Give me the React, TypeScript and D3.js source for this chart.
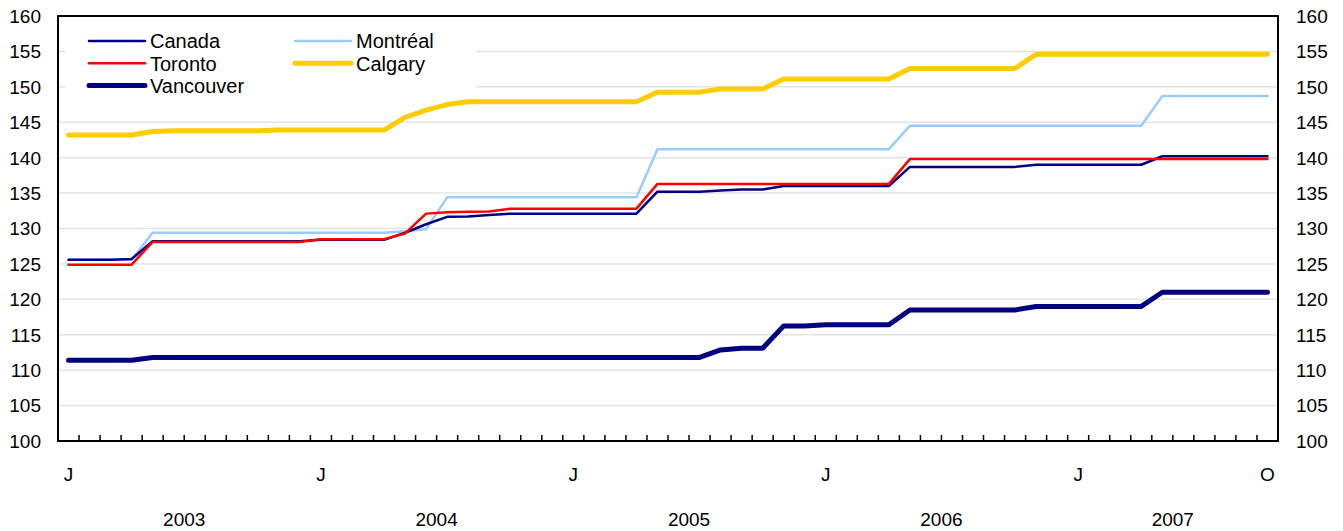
import React, { useRef, useEffect } from 'react';
import * as d3 from 'd3';

// monthly index values, Jan 2003 .. Oct 2007
const months = [
  '2003-01', '2003-02', '2003-03', '2003-04', '2003-05', '2003-06', '2003-07', '2003-08', '2003-09', '2003-10', '2003-11', '2003-12',
  '2004-01', '2004-02', '2004-03', '2004-04', '2004-05', '2004-06', '2004-07', '2004-08', '2004-09', '2004-10', '2004-11', '2004-12',
  '2005-01', '2005-02', '2005-03', '2005-04', '2005-05', '2005-06', '2005-07', '2005-08', '2005-09', '2005-10', '2005-11', '2005-12',
  '2006-01', '2006-02', '2006-03', '2006-04', '2006-05', '2006-06', '2006-07', '2006-08', '2006-09', '2006-10', '2006-11', '2006-12',
  '2007-01', '2007-02', '2007-03', '2007-04', '2007-05', '2007-06', '2007-07', '2007-08', '2007-09', '2007-10',
];

const canada = [
  125.6, 125.6, 125.6, 125.7, 128.2, 128.2, 128.2, 128.2, 128.2, 128.2, 128.2, 128.2,
  128.4, 128.4, 128.4, 128.4, 129.4, 130.6, 131.65, 131.7, 131.9, 132.1, 132.1, 132.1,
  132.1, 132.1, 132.1, 132.1, 135.2, 135.2, 135.2, 135.35, 135.5, 135.5, 136.0, 136.0,
  136.0, 136.0, 136.0, 136.0, 138.7, 138.7, 138.7, 138.7, 138.7, 138.7, 139.0, 139.0,
  139.0, 139.0, 139.0, 139.0, 140.2, 140.2, 140.2, 140.2, 140.2, 140.2,
];

const toronto = [
  124.9, 124.9, 124.9, 124.9, 128.1, 128.1, 128.1, 128.1, 128.1, 128.1, 128.1, 128.1,
  128.5, 128.5, 128.5, 128.5, 129.3, 132.1, 132.3, 132.35, 132.4, 132.8, 132.8, 132.8,
  132.8, 132.8, 132.8, 132.8, 136.3, 136.3, 136.3, 136.3, 136.3, 136.3, 136.3, 136.3,
  136.3, 136.3, 136.3, 136.3, 139.8, 139.8, 139.8, 139.8, 139.8, 139.8, 139.8, 139.8,
  139.8, 139.8, 139.8, 139.8, 139.8, 139.8, 139.8, 139.8, 139.8, 139.8,
];

const montreal = [
  125.6, 125.6, 125.6, 125.6, 129.4, 129.4, 129.4, 129.4, 129.4, 129.4, 129.4, 129.4,
  129.4, 129.4, 129.4, 129.4, 129.6, 129.9, 134.4, 134.4, 134.4, 134.4, 134.4, 134.4,
  134.4, 134.4, 134.4, 134.4, 141.2, 141.2, 141.2, 141.2, 141.2, 141.2, 141.2, 141.2,
  141.2, 141.2, 141.2, 141.2, 144.5, 144.5, 144.5, 144.5, 144.5, 144.5, 144.5, 144.5,
  144.5, 144.5, 144.5, 144.5, 148.7, 148.7, 148.7, 148.7, 148.7, 148.7,
];

const calgary = [
  143.2, 143.2, 143.2, 143.2, 143.7, 143.8, 143.8, 143.8, 143.8, 143.8, 143.9, 143.9,
  143.9, 143.9, 143.9, 143.9, 145.7, 146.7, 147.5, 147.9, 147.9, 147.9, 147.9, 147.9,
  147.9, 147.9, 147.9, 147.9, 149.25, 149.25, 149.25, 149.7, 149.7, 149.7, 151.1, 151.1,
  151.1, 151.1, 151.1, 151.1, 152.6, 152.6, 152.6, 152.6, 152.6, 152.6, 154.6, 154.6,
  154.6, 154.6, 154.6, 154.6, 154.6, 154.6, 154.6, 154.6, 154.6, 154.6,
];

const vancouver = [
  111.4, 111.4, 111.4, 111.4, 111.8, 111.8, 111.8, 111.8, 111.8, 111.8, 111.8, 111.8,
  111.8, 111.8, 111.8, 111.8, 111.8, 111.8, 111.8, 111.8, 111.8, 111.8, 111.8, 111.8,
  111.8, 111.8, 111.8, 111.8, 111.8, 111.8, 111.8, 112.85, 113.1, 113.1, 116.25, 116.25,
  116.4, 116.4, 116.4, 116.4, 118.5, 118.5, 118.5, 118.5, 118.5, 118.5, 119.0, 119.0,
  119.0, 119.0, 119.0, 119.0, 121.0, 121.0, 121.0, 121.0, 121.0, 121.0,
];

const yTicks = [100, 105, 110, 115, 120, 125, 130, 135, 140, 145, 150, 155, 160];
const monthLabels = [
  { idx: 0, label: 'J' }, { idx: 12, label: 'J' }, { idx: 24, label: 'J' },
  { idx: 36, label: 'J' }, { idx: 48, label: 'J' }, { idx: 57, label: 'O' },
];
const years = ['2003', '2004', '2005', '2006', '2007'];

// draw order: Montréal sits under Canada at the start
const series = [
  { name: 'Montréal', values: montreal, color: '#99ccff', width: 2.5 },
  { name: 'Canada', values: canada, color: '#000080', width: 2.5 },
  { name: 'Toronto', values: toronto, color: '#ff0000', width: 2.5 },
  { name: 'Calgary', values: calgary, color: '#ffcc00', width: 5 },
  { name: 'Vancouver', values: vancouver, color: '#000080', width: 5 },
];

const legendItems = [
  { name: 'Canada', col: 0, row: 0 },
  { name: 'Montréal', col: 1, row: 0 },
  { name: 'Toronto', col: 0, row: 1 },
  { name: 'Calgary', col: 1, row: 1 },
  { name: 'Vancouver', col: 0, row: 2 },
];

const FONT = '"Liberation Sans", Arial, Helvetica, sans-serif';

const App = () => {
  const ref = useRef<SVGSVGElement>(null);

  useEffect(() => {
    const svg = d3.select(ref.current);
    svg.selectAll('*').remove();

    const left = 58, right = 1278, top = 16, bottom = 441;

    const x = d3.scaleBand<string>().domain(months).range([left, right]).padding(0);
    const bw = x.bandwidth();
    const cx = (i: number) => (x(months[i]) as number) + bw / 2;
    const y = d3.scaleLinear().domain([100, 160]).range([bottom, top]);

    // gridlines
    svg.append('g')
      .selectAll('line')
      .data(yTicks.filter((t) => t > 100 && t < 160))
      .enter()
      .append('line')
      .attr('x1', left)
      .attr('x2', right)
      .attr('y1', (d) => y(d))
      .attr('y2', (d) => y(d))
      .attr('stroke', '#e3e3e3')
      .attr('stroke-width', 1.5);

    // legend background hides the top gridlines
    svg.append('rect')
      .attr('x', 65).attr('y', 20).attr('width', 411).attr('height', 86)
      .attr('fill', '#fff');

    // y labels, both sides
    const yl = svg.append('g').style('font-family', FONT).style('font-size', '19px').attr('fill', '#000');
    yl.selectAll('.yl')
      .data(yTicks)
      .enter()
      .append('text')
      .attr('x', 41)
      .attr('y', (d) => y(d))
      .attr('dy', '0.36em')
      .attr('text-anchor', 'end')
      .text((d) => d);
    yl.selectAll('.yr')
      .data(yTicks)
      .enter()
      .append('text')
      .attr('x', 1296)
      .attr('y', (d) => y(d))
      .attr('dy', '0.36em')
      .attr('text-anchor', 'start')
      .text((d) => d);

    // series lines
    series.forEach((s) => {
      const line = d3.line<number>()
        .x((_, i) => cx(i))
        .y((d) => y(d));
      svg.append('path')
        .datum(s.values)
        .attr('d', line)
        .attr('fill', 'none')
        .attr('stroke', s.color)
        .attr('stroke-width', s.width)
        .attr('stroke-linejoin', 'round')
        .attr('stroke-linecap', 'round');
    });

    // month ticks (inward)
    svg.append('g')
      .selectAll('line')
      .data(months.slice(1))
      .enter()
      .append('line')
      .attr('x1', (d) => x(d) as number)
      .attr('x2', (d) => x(d) as number)
      .attr('y1', bottom)
      .attr('y2', bottom - 6)
      .attr('stroke', '#000')
      .attr('stroke-width', 1.5);

    // frame
    svg.append('rect')
      .attr('x', left).attr('y', top)
      .attr('width', right - left).attr('height', bottom - top)
      .attr('fill', 'none')
      .attr('stroke', '#000')
      .attr('stroke-width', 2);

    // x labels
    const xl = svg.append('g').style('font-family', FONT).style('font-size', '19px').attr('fill', '#000');
    xl.selectAll('.m')
      .data(monthLabels)
      .enter()
      .append('text')
      .attr('x', (d) => cx(d.idx))
      .attr('y', 481)
      .attr('text-anchor', 'middle')
      .text((d) => d.label);
    xl.selectAll('.yr')
      .data(years)
      .enter()
      .append('text')
      .attr('x', (d) => {
        const idx = months.map((m, i) => (m.startsWith(d) ? i : -1)).filter((i) => i >= 0);
        return (cx(idx[0]) + cx(idx[idx.length - 1])) / 2;
      })
      .attr('y', 526)
      .attr('text-anchor', 'middle')
      .text((d) => d);

    // legend
    const lg = svg.append('g').style('font-family', FONT).style('font-size', '20px');
    legendItems.forEach((it) => {
      const s = series.find((q) => q.name === it.name)!;
      const x0 = it.col === 0 ? 89 : 295;
      const yy = 41 + it.row * 22.3;
      lg.append('line')
        .attr('x1', x0).attr('x2', x0 + 56)
        .attr('y1', yy).attr('y2', yy)
        .attr('stroke', s.color)
        .attr('stroke-width', s.width)
        .attr('stroke-linecap', 'round');
      lg.append('text')
        .attr('x', x0 + 61)
        .attr('y', yy)
        .attr('dy', '0.36em')
        .attr('fill', '#000')
        .text(it.name);
    });
  }, []);

  return (
    <svg
      ref={ref}
      width={1343}
      height={531}
      style={{ position: 'absolute', left: 0, top: 0, background: '#fff' }}
    />
  );
};

export default App;
